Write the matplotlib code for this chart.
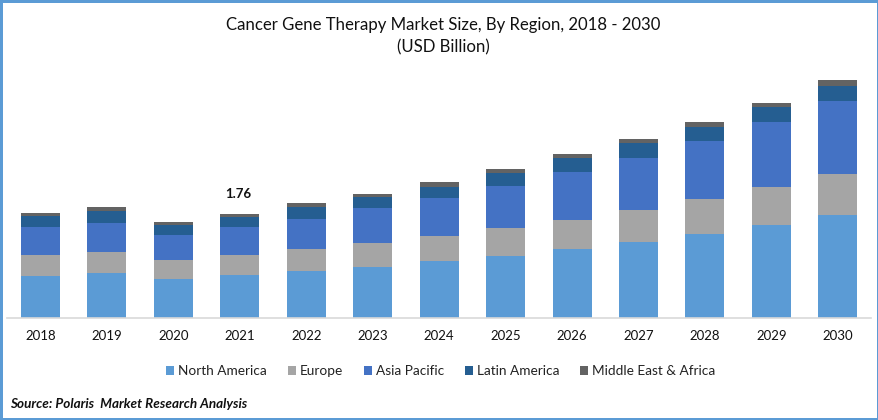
import matplotlib
matplotlib.use("Agg")
import matplotlib.pyplot as plt
import numpy as np
from matplotlib.patches import Rectangle

plt.rcParams["font.family"] = ["Lato", "DejaVu Sans"]

years = [str(y) for y in range(2018, 2031)]
north_america = [0.71, 0.76, 0.66, 0.73, 0.80, 0.86, 0.96, 1.05, 1.17, 1.29, 1.42, 1.57, 1.74]
europe = [0.36, 0.36, 0.32, 0.34, 0.36, 0.41, 0.42, 0.47, 0.49, 0.54, 0.59, 0.64, 0.69]
asia_pacific = [0.46, 0.49, 0.42, 0.47, 0.52, 0.58, 0.64, 0.71, 0.80, 0.88, 0.98, 1.10, 1.24]
latin_america = [0.19, 0.19, 0.17, 0.17, 0.19, 0.20, 0.20, 0.22, 0.24, 0.25, 0.24, 0.25, 0.25]
mea = [0.06, 0.08, 0.05, 0.05, 0.07, 0.05, 0.07, 0.07, 0.07, 0.07, 0.08, 0.08, 0.10]

series = [
    ("North America", north_america, "#5B9BD5"),
    ("Europe", europe, "#A5A5A5"),
    ("Asia Pacific", asia_pacific, "#4472C4"),
    ("Latin America", latin_america, "#255E91"),
    ("Middle East & Africa", mea, "#636363"),
]

W, H = 879, 420
fig = plt.figure(figsize=(W / 100, H / 100), dpi=100)
ax = fig.add_axes([7.3 / W, 1 - 318 / H, (871 - 7.3) / W, 259 / H])

x = np.arange(len(years))
bottom = np.zeros(len(years))
for name, vals, color in series:
    ax.bar(x, vals, width=0.587, bottom=bottom, color=color, label=name)
    bottom += np.array(vals)

ax.set_xlim(-0.5, 12.5)
ax.set_ylim(0, 4.375)
ax.set_yticks([])
ax.set_xticks(x)
ax.set_xticklabels(years, fontsize=9.5, color="#111111")
ax.tick_params(axis="x", length=0, pad=9)
for side in ["top", "left", "right"]:
    ax.spines[side].set_visible(False)
ax.spines["bottom"].set_color("#D9D9D9")
ax.spines["bottom"].set_linewidth(1.2)

# label only on 2021
ax.annotate("1.76", (3, bottom[3]), xytext=(-2, 14), textcoords="offset pixels",
            ha="center", va="bottom", fontsize=9.5, fontweight="bold", color="#111111")

fig.text(443 / W, 1 - 25 / H, "Cancer Gene Therapy Market Size, By Region, 2018 - 2030",
         ha="center", va="center", fontsize=12.1, color="#111111")
fig.text(443 / W, 1 - 47 / H, "(USD Billion)",
         ha="center", va="center", fontsize=12.1, color="#111111")

ax.legend(loc="center", bbox_to_anchor=(441 / W, 1 - 371 / H), bbox_transform=fig.transFigure,
          ncol=5, frameon=False, fontsize=9.8, handlelength=0.59, handleheight=0.6,
          handletextpad=0.3, columnspacing=1.52, labelcolor="#222222")

fig.text(10 / W, 1 - 404 / H, "Source: Polaris  Market Research Analysis",
         ha="left", va="center", fontsize=9.7, fontweight="bold", fontstyle="italic", color="#111111")

# blue frame around the picture
fig.add_artist(Rectangle((0, 0), 1, 1, transform=fig.transFigure, fill=False,
                         edgecolor="#5B9BD5", linewidth=3.6))

fig.savefig("out.png", dpi=100)
